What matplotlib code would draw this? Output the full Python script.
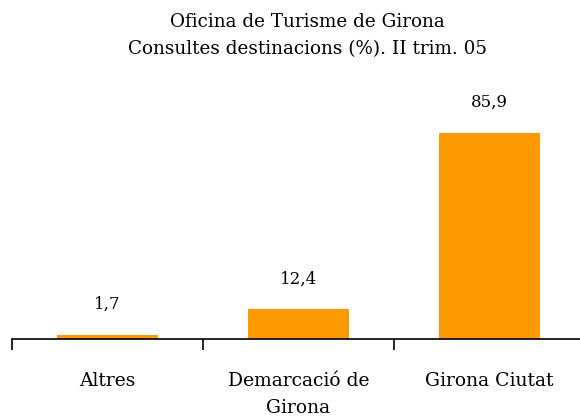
import matplotlib.pyplot as plt

categories = ["Altres", "Demarcació de\nGirona", "Girona Ciutat"]
values = [1.7, 12.4, 85.9]
labels = ["1,7", "12,4", "85,9"]

plt.rcParams["font.family"] = ["DejaVu Serif"]

fig = plt.figure(figsize=(5.8, 4.19), dpi=100)
ax = fig.add_axes([0.0207, 0.191, 0.988, 0.573])

x = range(len(categories))
ax.bar(x, values, width=0.53, color="#ff9900")
for i, v in enumerate(values):
    ax.text(i, v + 9, labels[i], ha="center", va="bottom", fontsize=12)

ax.set_xlim(-0.5, 2.5)
ax.set_ylim(0, 100)
ax.set_yticks([])
for s in ["left", "right", "top"]:
    ax.spines[s].set_visible(False)
ax.spines["bottom"].set_linewidth(1.2)

ax.set_xticks(list(x))
ax.set_xticklabels(categories, fontsize=13.5, linespacing=1.65)
ax.tick_params(axis="x", which="major", length=0, pad=24)
ax.set_xticks([-0.5, 0.5, 1.5, 2.5], minor=True)
ax.tick_params(axis="x", which="minor", length=8, width=1.2, direction="out")

fig.text(0.53, 0.97, "Oficina de Turisme de Girona\nConsultes destinacions (%). II trim. 05",
         ha="center", va="top", fontsize=13.2, linespacing=1.65)

plt.savefig("out.png", dpi=100)
